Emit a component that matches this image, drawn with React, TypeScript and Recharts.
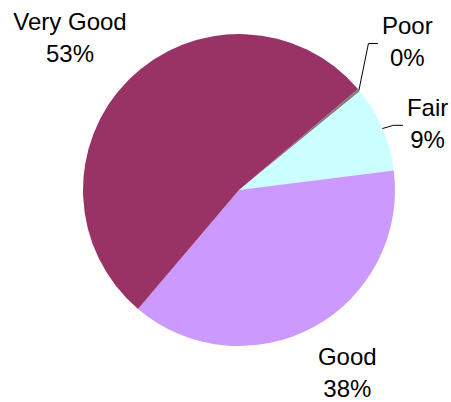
import React from 'react';
import { PieChart, Pie, Cell } from 'recharts';

const categories = ['Poor', 'Fair', 'Good', 'Very Good'];
const shares = [0.3, 8.9, 38.2, 52.6];
const colors = ['#808080', '#CCFFFF', '#CC99FF', '#993366'];

const data = categories.map((name, i) => ({ name, value: shares[i] }));

const FONT = '"Liberation Sans", Arial, sans-serif';
const FONT_SIZE = 24;
const LABEL_R = 215;
const labelNudges = [
  [3, -11],
  [-9, 18],
  [6, -7],
  [-17, -1],
];
const hasLeader = [true, true, false, false];

let measureCtx: CanvasRenderingContext2D | null = null;
const textWidth = (s: string) => {
  if (!measureCtx) {
    const c = document.createElement('canvas');
    measureCtx = c.getContext('2d');
  }
  if (!measureCtx) return s.length * FONT_SIZE * 0.55;
  measureCtx.font = `${FONT_SIZE}px "Liberation Sans", Arial`;
  return measureCtx.measureText(s).width;
};

const renderLabel = (props: any) => {
  const { cx, cy, midAngle, outerRadius, index, percent } = props;
  const rad = Math.PI / 180;
  const cos = Math.cos(-midAngle * rad);
  const sin = Math.sin(-midAngle * rad);
  const lx = cx + LABEL_R * cos + labelNudges[index][0];
  const ly = cy + LABEL_R * sin + labelNudges[index][1];
  const name = categories[index];
  const pct = `${Math.round(percent * 100)}%`;
  let leader = null;
  if (hasLeader[index]) {
    const sx = cx + outerRadius * cos;
    const sy = cy + outerRadius * sin;
    const w = Math.max(textWidth(name), textWidth(pct));
    const ex = lx - w / 2 - 4;
    const ey = ly + 2;
    const mx = ex - 9.5;
    leader = (
      <path
        d={`M${sx},${sy}L${mx},${ey}L${ex},${ey}`}
        stroke="#000"
        strokeWidth={1}
        fill="none"
      />
    );
  }
  return (
    <g key={`lbl-${index}`}>
      {leader}
      <text
        x={lx}
        y={ly - 7}
        textAnchor="middle"
        fill="#000"
        fontFamily={FONT}
        fontSize={FONT_SIZE}
      >
        {name}
      </text>
      <text
        x={lx}
        y={ly + 25}
        textAnchor="middle"
        fill="#000"
        fontFamily={FONT}
        fontSize={FONT_SIZE}
      >
        {pct}
      </text>
    </g>
  );
};

export default function App() {
  return (
    <div style={{ position: 'absolute', left: 0, top: 0, width: 451, height: 402, background: '#fff' }}>
      <PieChart width={451} height={402} margin={{ top: 0, right: 0, bottom: 0, left: 0 }}>
        <Pie
          data={data}
          dataKey="value"
          nameKey="name"
          cx={239}
          cy={190}
          outerRadius={156}
          startAngle={40.3}
          endAngle={-319.7}
          stroke="none"
          label={renderLabel}
          labelLine={false}
          isAnimationActive={false}
        >
          {data.map((d, i) => (
            <Cell key={d.name} fill={colors[i]} stroke="none" />
          ))}
        </Pie>
      </PieChart>
    </div>
  );
}
